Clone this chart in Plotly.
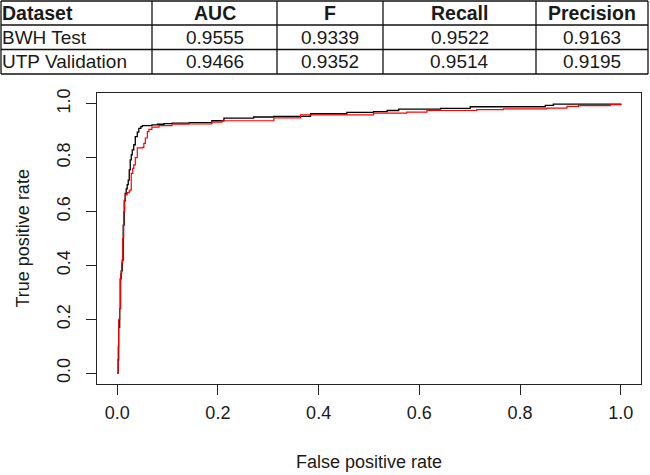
import plotly.graph_objects as go

# ---- data ----
table_header = ["Dataset", "AUC", "F", "Recall", "Precision"]
table_rows = [
    ["BWH Test", "0.9555", "0.9339", "0.9522", "0.9163"],
    ["UTP Validation", "0.9466", "0.9352", "0.9514", "0.9195"],
]

fpr_bwh = [0, 0.002, 0.003, 0.005, 0.006, 0.008, 0.010, 0.012, 0.014, 0.016,
           0.018, 0.020, 0.022, 0.024, 0.026, 0.028, 0.030, 0.033, 0.036, 0.040,
           0.043, 0.047, 0.050, 0.069, 0.080, 0.093, 0.109, 0.143, 0.188, 0.212,
           0.271, 0.311, 0.384, 0.456, 0.509, 0.536, 0.559, 0.642, 0.701, 0.850,
           0.866, 1.0]
tpr_bwh = [0, 0.05, 0.17, 0.24, 0.35, 0.38, 0.42, 0.55, 0.64, 0.667,
           0.684, 0.70, 0.717, 0.755, 0.792, 0.81, 0.829, 0.848, 0.878, 0.895,
           0.909, 0.915, 0.919, 0.922, 0.924, 0.926, 0.928, 0.930, 0.937, 0.947,
           0.951, 0.953, 0.963, 0.968, 0.971, 0.975, 0.980, 0.983, 0.989, 0.994,
           0.999, 1.0]

fpr_utp = [0, 0.002, 0.003, 0.005, 0.007, 0.009, 0.011, 0.013, 0.015, 0.016,
           0.020, 0.024, 0.026, 0.028, 0.031, 0.033, 0.036, 0.040, 0.050, 0.053,
           0.056, 0.060, 0.063, 0.069, 0.083, 0.109, 0.142, 0.188, 0.208, 0.311,
           0.364, 0.509, 0.575, 0.615, 0.714, 0.767, 0.853, 0.893, 0.916, 0.979,
           1.0]
tpr_utp = [0, 0.10, 0.20, 0.24, 0.37, 0.41, 0.50, 0.60, 0.643, 0.662,
           0.670, 0.677, 0.680, 0.742, 0.760, 0.773, 0.800, 0.836, 0.838, 0.853,
           0.873, 0.897, 0.905, 0.913, 0.919, 0.924, 0.925, 0.932, 0.937, 0.948,
           0.959, 0.965, 0.969, 0.975, 0.978, 0.981, 0.984, 0.990, 0.993, 0.997,
           1.0]

tick_vals = [0, 0.2, 0.4, 0.6, 0.8, 1.0]
tick_text = ["0.0", "0.2", "0.4", "0.6", "0.8", "1.0"]

# ---- layout geometry (pixels) ----
W, H = 650, 475
L, R, T, B = 97, 9, 93, 91
PW = W - L - R
PH = H - T - B
FONT = "Liberation Sans, Arial, sans-serif"
TXT = "#1a1a1a"


def px(x):
    return (x - L) / PW


def py(y):
    return (H - B - y) / PH


fig = go.Figure()
fig.add_trace(go.Scatter(x=fpr_bwh, y=tpr_bwh, mode="lines",
                         line=dict(color="#000000", width=1.3, shape="hv"),
                         name="BWH Test"))
fig.add_trace(go.Scatter(x=fpr_utp, y=tpr_utp, mode="lines",
                         line=dict(color="#ff0000", width=1.2, shape="hv"),
                         name="UTP Validation"))

axis_common = dict(
    range=[-0.04, 1.04], tickvals=tick_vals, ticktext=tick_text,
    ticks="outside", ticklen=10, tickwidth=1, tickcolor="#222",
    showline=True, mirror=True, linecolor="#222", linewidth=1,
    showgrid=False, zeroline=False,
    tickfont=dict(family=FONT, size=18, color=TXT),
)
fig.update_xaxes(**axis_common, ticklabelstandoff=2)
fig.update_yaxes(**axis_common, tickangle=-90, ticklabelstandoff=9)

# ---- table ----
col_edges = [1, 152, 277, 383, 536, 648]
row_edges = [1, 25, 49.5, 74]
shapes = []
for yv in row_edges:
    shapes.append(dict(type="line", xref="paper", yref="paper",
                       x0=px(col_edges[0]), x1=px(col_edges[-1]), y0=py(yv), y1=py(yv),
                       line=dict(color="#111", width=1.3)))
for xv in col_edges:
    shapes.append(dict(type="line", xref="paper", yref="paper",
                       x0=px(xv), x1=px(xv), y0=py(row_edges[0]), y1=py(row_edges[-1]),
                       line=dict(color="#111", width=1.3)))

annotations = []
all_rows = [table_header] + table_rows
for ri, row in enumerate(all_rows):
    yc = (row_edges[ri] + row_edges[ri + 1]) / 2
    size = 19.5 if ri == 0 else 19
    for ci, val in enumerate(row):
        text = f"<b>{val}</b>" if ri == 0 else val
        if ci == 0:
            xpos, anchor = px(col_edges[0] - 1), "left"
        else:
            xpos, anchor = px((col_edges[ci] + col_edges[ci + 1]) / 2), "center"
        annotations.append(dict(text=text, x=xpos, y=py(yc), xref="paper", yref="paper",
                                xanchor=anchor, yanchor="middle", showarrow=False,
                                font=dict(family=FONT, size=size, color=TXT)))

# axis titles
annotations.append(dict(text="False positive rate", x=px((L + W - R) / 2), y=py(462),
                        xref="paper", yref="paper", xanchor="center", yanchor="middle",
                        showarrow=False, font=dict(family=FONT, size=18, color=TXT)))
annotations.append(dict(text="True positive rate", x=px(22), y=py((T + H - B) / 2),
                        xref="paper", yref="paper", xanchor="center", yanchor="middle",
                        textangle=-90, showarrow=False,
                        font=dict(family=FONT, size=18, color=TXT)))

fig.update_layout(
    width=W, height=H,
    margin=dict(l=L, r=R, t=T, b=B, pad=0),
    paper_bgcolor="white", plot_bgcolor="white",
    showlegend=False,
    shapes=shapes, annotations=annotations,
)

fig.write_html("out.html", config={"displayModeBar": False},
               post_script="document.body.style.margin='0';document.body.style.padding='0';")
